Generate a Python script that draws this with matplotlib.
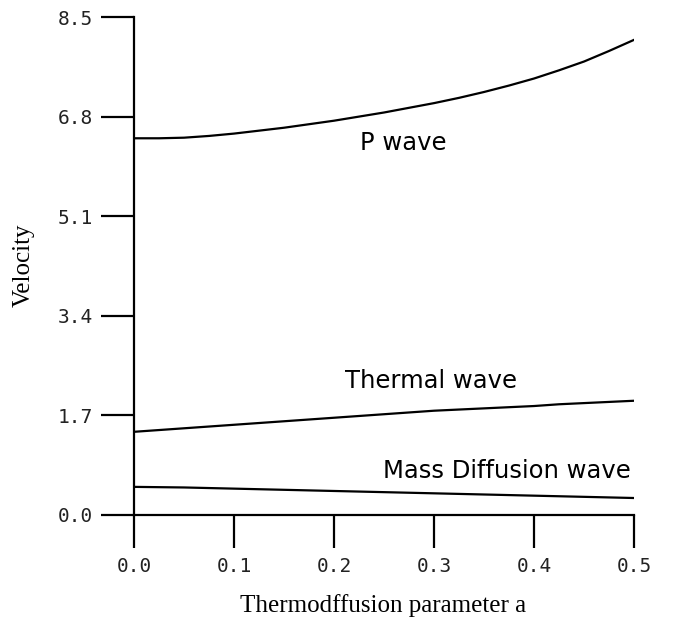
import numpy as np
import matplotlib
matplotlib.use("Agg")
import matplotlib.pyplot as plt

# thermodiffusion parameter
a = [0.0, 0.025, 0.05, 0.075, 0.1, 0.125, 0.15, 0.175, 0.2, 0.225, 0.25,
     0.275, 0.3, 0.325, 0.35, 0.375, 0.4, 0.425, 0.45, 0.475, 0.5]

# velocities
p_wave = [6.43, 6.43, 6.44, 6.47, 6.51, 6.56, 6.61, 6.67, 6.73, 6.80, 6.87,
          6.95, 7.03, 7.12, 7.22, 7.33, 7.45, 7.59, 7.74, 7.92, 8.11]
thermal_wave = [1.42, 1.45, 1.48, 1.51, 1.54, 1.57, 1.60, 1.63, 1.66, 1.69, 1.72,
                1.75, 1.78, 1.80, 1.82, 1.84, 1.86, 1.89, 1.91, 1.93, 1.95]
mass_wave = [0.48, 0.475, 0.47, 0.46, 0.45, 0.44, 0.43, 0.42, 0.41, 0.40, 0.39,
             0.38, 0.37, 0.36, 0.35, 0.34, 0.33, 0.32, 0.31, 0.30, 0.29]

xticks = [0.0, 0.1, 0.2, 0.3, 0.4, 0.5]
yticks = [0.0, 1.7, 3.4, 5.1, 6.8, 8.5]

fig = plt.figure(figsize=(6.83, 6.25), dpi=100)
ax = fig.add_axes([0.1962, 0.176, 0.7321, 0.7968])

for ys in (p_wave, thermal_wave, mass_wave):
    ax.plot(a, ys, color="black", lw=1.6)

ax.set_xlim(0, 0.5)
ax.set_ylim(0, 8.5)
ax.set_xticks(xticks)
ax.set_yticks(yticks)
ax.set_xticklabels(["%.1f" % v for v in xticks])
ax.set_yticklabels(["%.1f" % v for v in yticks])

for s in ["top", "right"]:
    ax.spines[s].set_visible(False)
for s in ["left", "bottom"]:
    ax.spines[s].set_linewidth(1.6)

ax.tick_params(direction="out", length=23.5, width=1.6)
ax.tick_params(axis="x", pad=7)
ax.tick_params(axis="y", pad=6)
for lab in ax.get_xticklabels() + ax.get_yticklabels():
    lab.set_family("DejaVu Sans Mono")
    lab.set_fontsize(14)
    lab.set_fontweight("light")
    lab.set_color("#222222")

# curve labels
ax.text(0.226, 6.23, "P wave", fontsize=17.5, ha="left", va="baseline", family="DejaVu Sans")
ax.text(0.211, 2.17, "Thermal wave", fontsize=17.5, ha="left", va="baseline", family="DejaVu Sans")
ax.text(0.249, 0.63, "Mass Diffusion wave", fontsize=17.5, ha="left", va="baseline", family="DejaVu Sans")

fig.text(0.034, 0.576, "Velocity", rotation=90, ha="center", va="center",
         family="Liberation Serif", fontsize=18)
fig.text(0.561, 0.031, "Thermodffusion parameter a", ha="center", va="center",
         family="Liberation Serif", fontsize=18)

fig.savefig("out.png", dpi=100)
